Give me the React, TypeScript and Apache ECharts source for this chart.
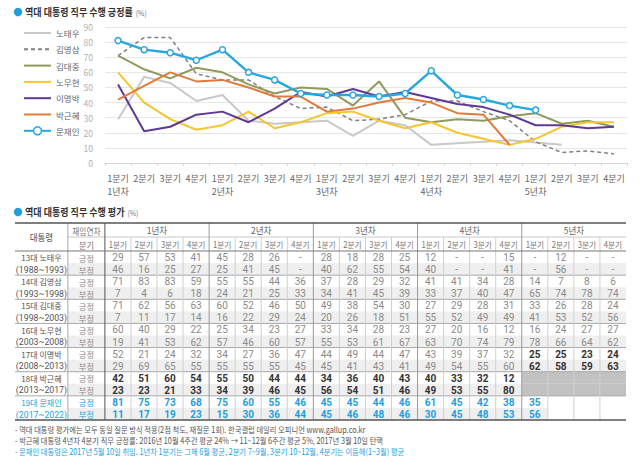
import React, { useEffect, useRef } from "react";
import * as echarts from "echarts";

const FONT = "'Noto Sans CJK KR', 'Noto Sans', sans-serif";
const NUM_FONT = "Roboto, 'Liberation Sans', sans-serif";

const quarterLabels = ["1분기", "2분기", "3분기", "4분기"];
const yearLabels = ["1년차", "2년차", "3년차", "4년차", "5년차"];
const presidentNames = ["노태우", "김영삼", "김대중", "노무현", "이명박", "박근혜", "문재인"];
const termNumbers = ["13대", "14대", "15대", "16대", "17대", "18대", "19대"];
const termPeriods = ["(1988~1993)", "(1993~1998)", "(1998~2003)", "(2003~2008)", "(2008~2013)", "(2013~2017)", "(2017~2022)"];
const ratingLabels = ["긍정", "부정"];

const rohPos = [29, 57, 53, 41, 45, 28, 26, null, 28, 18, 28, 25, 12, null, null, 15, null, 12, null, null];
const rohNeg = [46, 16, 25, 27, 25, 41, 45, null, 40, 62, 55, 54, 40, null, null, 41, null, 56, null, null];
const kysPos = [71, 83, 83, 59, 55, 55, 44, 36, 37, 28, 29, 32, 41, 41, 34, 28, 14, 7, 8, 6];
const kysNeg = [7, 4, 6, 18, 24, 21, 25, 33, 34, 41, 45, 39, 33, 37, 40, 47, 65, 74, 78, 74];
const kdjPos = [71, 62, 56, 63, 60, 52, 46, 50, 49, 38, 54, 30, 27, 29, 28, 31, 33, 26, 28, 24];
const kdjNeg = [7, 11, 17, 14, 16, 22, 29, 24, 20, 26, 18, 51, 55, 52, 49, 49, 41, 53, 52, 56];
const rmhPos = [60, 40, 29, 22, 25, 34, 23, 27, 33, 34, 28, 23, 27, 20, 16, 12, 16, 24, 27, 27];
const rmhNeg = [19, 41, 53, 62, 57, 46, 60, 57, 55, 53, 61, 67, 63, 70, 74, 79, 78, 66, 64, 62];
const lmbPos = [52, 21, 24, 32, 34, 27, 36, 47, 44, 49, 44, 47, 43, 39, 37, 32, 25, 25, 23, 24];
const lmbNeg = [29, 69, 65, 55, 55, 55, 55, 45, 45, 41, 43, 41, 49, 54, 55, 60, 62, 58, 59, 63];
const pghPos = [42, 51, 60, 54, 55, 50, 44, 44, 34, 36, 40, 43, 40, 33, 32, 12];
const pghNeg = [23, 23, 21, 33, 34, 39, 46, 45, 56, 54, 51, 46, 49, 53, 55, 80];
const mjiPos = [81, 75, 73, 68, 75, 60, 55, 46, 45, 45, 44, 46, 61, 45, 42, 38, 35];
const mjiNeg = [11, 17, 19, 23, 15, 30, 36, 44, 45, 46, 48, 46, 30, 45, 48, 53, 56];

const footnotes = [
  "- 역대 대통령 평가에는 모두 동일 질문 방식 적용(2점 척도, 재질문 1회). 한국갤럽 데일리 오피니언 www.gallup.co.kr",
  "- 박근혜 대통령 4년차 4분기 직무 긍정률: 2016년 10월 4주간 평균 24% → 11~12월 6주간 평균 5%, 2017년 3월 10일 탄핵",
  "- 문재인 대통령은 2017년 5월 10일 취임. 1년차 1분기는 그해 6월 평균, 2분기 7~9월, 3분기 10~12월, 4분기는 이듬해(1~3월) 평균",
];

const positives = [rohPos, kysPos, kdjPos, rmhPos, lmbPos, pghPos, mjiPos];
const negatives = [rohNeg, kysNeg, kdjNeg, rmhNeg, lmbNeg, pghNeg, mjiNeg];

const lineColors = ["#c8c8c8", "#808080", "#8d9b5c", "#f6c530", "#5e3995", "#e07a3a", "#27a7df"];
const BLUE = "#1e9fdb";

// table layout (in quarter-column units / row units)
const NAME_W = 2.03;
const LABEL_W = 1.42;
const HEAD_H = 1.16;
const NQ = 20;
const NROWS = 14;

type Cell = {
  x0: number; x1: number; y0: number; y1: number;
  text?: string; fill?: string; color?: string; bold?: boolean; size?: number; sx?: number; font?: string;
};
type Seg = { x0: number; y0: number; x1: number; y1: number; color: string; width: number };

function buildCells(): Cell[] {
  const cells: Cell[] = [];
  const L0 = -(NAME_W + LABEL_W);
  const L1 = -LABEL_W;
  cells.push({ x0: L0, x1: L1, y0: -2 * HEAD_H, y1: 0, text: "대통령", color: "#555", size: 9.5, sx: 0.9 });
  cells.push({ x0: L1, x1: 0, y0: -2 * HEAD_H, y1: -HEAD_H, text: "재임연차", color: "#777", size: 9, sx: 0.85 });
  cells.push({ x0: L1, x1: 0, y0: -HEAD_H, y1: 0, text: "분기", color: "#777", size: 9, sx: 0.9 });
  yearLabels.forEach((y, k) => {
    cells.push({ x0: 4 * k, x1: 4 * k + 4, y0: -2 * HEAD_H, y1: -HEAD_H, text: y, color: "#666", size: 9.5, sx: 0.9 });
  });
  for (let i = 0; i < NQ; i++) {
    cells.push({ x0: i, x1: i + 1, y0: -HEAD_H, y1: 0, text: quarterLabels[i % 4], color: "#777", size: 8.5, sx: 0.9 });
  }
  presidentNames.forEach((name, p) => {
    const isMoon = p === 6;
    const baseColor = isMoon ? BLUE : "#555";
    [positives[p], negatives[p]].forEach((arr, k) => {
      const r = 2 * p + k;
      const shade = k === 1 ? "#efefef" : undefined;
      cells.push({
        x0: -(NAME_W + LABEL_W), x1: -LABEL_W, y0: r, y1: r + 1,
        text: k === 0 ? termNumbers[p] + " " + name : termPeriods[p],
        color: baseColor, size: k === 0 ? 8.2 : 9.2, sx: k === 0 ? 0.98 : 0.95,
        font: k === 0 ? FONT : NUM_FONT,
      });
      cells.push({
        x0: -LABEL_W, x1: 0, y0: r, y1: r + 1, text: ratingLabels[k],
        color: isMoon ? BLUE : "#888", size: 8.2, sx: 1, fill: shade,
      });
      for (let i = 0; i < NQ; i++) {
        const c: Cell = { x0: i, x1: i + 1, y0: r, y1: r + 1, fill: shade, size: 10, color: "#8a8a8a", font: NUM_FONT };
        if (i < arr.length) {
          const v = arr[i];
          c.text = v === null ? "-" : String(v);
          if (p === 5 || (p === 4 && i >= 16)) { c.bold = true; c.color = "#333"; }
          if (isMoon) { c.bold = true; c.color = BLUE; }
        } else if (p === 5) {
          c.fill = "#c2c2c2";
        } else {
          c.fill = undefined;
        }
        cells.push(c);
      }
    });
  });
  return cells;
}

function buildSegs(): Seg[] {
  const segs: Seg[] = [];
  const L0 = -(NAME_W + LABEL_W);
  const L1 = -LABEL_W;
  const T = -2 * HEAD_H;
  segs.push({ x0: L1, y0: -HEAD_H, x1: NQ, y1: -HEAD_H, color: "#c8c8c8", width: 1 });
  for (let p = 1; p < presidentNames.length; p++) {
    segs.push({ x0: L0, y0: 2 * p, x1: NQ, y1: 2 * p, color: "#a8a8a8", width: 1 });
  }
  for (let i = 1; i < NQ; i++) {
    if (i % 4 === 0) segs.push({ x0: i, y0: T, x1: i, y1: NROWS, color: "#9a9a9a", width: 1 });
    else segs.push({ x0: i, y0: -HEAD_H, x1: i, y1: NROWS, color: "#cfcfcf", width: 1 });
  }
  segs.push({ x0: L1, y0: T, x1: L1, y1: NROWS, color: "#a8a8a8", width: 1 });
  segs.push({ x0: 0, y0: T, x1: 0, y1: NROWS, color: "#555", width: 1 });
  segs.push({ x0: L0, y0: 0, x1: NQ, y1: 0, color: "#777", width: 1 });
  segs.push({ x0: L0, y0: T, x1: NQ, y1: T, color: "#555", width: 1.6 });
  segs.push({ x0: L0, y0: NROWS, x1: NQ, y1: NROWS, color: "#555", width: 1.6 });
  return segs;
}

export default function App() {
  const ref = useRef<HTMLDivElement>(null);
  useEffect(() => {
    const chart = echarts.init(ref.current as HTMLDivElement, undefined, { renderer: "svg" });
    const xCats: string[] = [];
    yearLabels.forEach((y) => quarterLabels.forEach((q, qi) => xCats.push(qi === 0 ? q + "\n" + y : q)));
    const cells = buildCells();
    const segs = buildSegs();

    const lineSeries = presidentNames.map((name, p) => {
      const isMoon = p === 6;
      return {
        type: "line",
        name,
        data: positives[p],
        xAxisIndex: 0,
        yAxisIndex: 0,
        connectNulls: true,
        color: lineColors[p],
        symbol: isMoon ? "circle" : "none",
        symbolSize: 6,
        showSymbol: isMoon,
        itemStyle: isMoon ? { color: "#fff", borderColor: lineColors[p], borderWidth: 1.5 } : { color: lineColors[p] },
        lineStyle: { color: lineColors[p], width: isMoon ? 2.4 : p === 1 ? 1.5 : 2, type: p === 1 ? [4, 3] : "solid" },
        z: 2 + p,
      };
    });

    const option: any = {
      animation: false,
      textStyle: { fontFamily: FONT },
      legend: {
        orient: "vertical",
        left: 18,
        top: 23,
        itemWidth: 27,
        itemHeight: 10,
        itemGap: 6.3,
        data: presidentNames.map((n, p) =>
          p === 6 ? { name: n, itemStyle: { color: "#fff", borderColor: lineColors[p], borderWidth: 1.5 } }
                  : { name: n, itemStyle: { color: "rgba(0,0,0,0)", borderColor: "rgba(0,0,0,0)", borderWidth: 0 } }
        ),
        textStyle: { fontSize: 8.5, color: "#666", fontFamily: FONT, lineHeight: 10 },
      },
      grid: [
        { left: 105, right: 13, top: 27, bottom: 309 },
        { left: 15, right: 14, top: 223, bottom: 52 },
      ],
      xAxis: [
        {
          type: "category",
          gridIndex: 0,
          data: xCats,
          boundaryGap: true,
          axisLine: { lineStyle: { color: "#d4d4d4" } },
          axisTick: { show: true, length: 3, lineStyle: { color: "#d4d4d4" } },
          axisLabel: { interval: 0, fontSize: 9, color: "#666", lineHeight: 13, margin: 9, fontFamily: FONT },
        },
        { type: "value", gridIndex: 1, min: -(NAME_W + LABEL_W), max: NQ, show: false },
      ],
      yAxis: [
        {
          type: "value",
          gridIndex: 0,
          min: 0,
          max: 90,
          interval: 10,
          axisLine: { show: false },
          axisTick: { show: false },
          axisLabel: { color: "#b0b0b0", fontSize: 8.5, margin: 12, fontFamily: FONT },
          splitLine: { lineStyle: { color: "#e6e6e6", width: 1 } },
        },
        { type: "value", gridIndex: 1, min: -2 * HEAD_H, max: NROWS, inverse: true, show: false },
      ],
      series: [
        ...lineSeries,
        {
          type: "custom",
          coordinateSystem: "cartesian2d",
          xAxisIndex: 1,
          yAxisIndex: 1,
          silent: true,
          clip: false,
          z: 1,
          data: cells.map((c) => [c.x0, c.y0, c.x1, c.y1]),
          encode: { x: [0, 2], y: [1, 3] },
          renderItem: (params: any, api: any) => {
            const c = cells[params.dataIndex];
            const a = api.coord([c.x0, c.y0]);
            const b = api.coord([c.x1, c.y1]);
            const children: any[] = [];
            if (c.fill) {
              children.push({
                type: "rect",
                shape: { x: a[0], y: a[1], width: b[0] - a[0], height: b[1] - a[1] },
                style: { fill: c.fill },
              });
            }
            if (c.text) {
              children.push({
                type: "text",
                x: (a[0] + b[0]) / 2,
                y: (a[1] + b[1]) / 2 + 0.5,
                scaleX: c.sx ?? 1,
                style: {
                  text: c.text,
                  fill: c.color,
                  fontSize: c.size,
                  fontFamily: c.font ?? FONT,
                  fontWeight: c.bold ? "bold" : "normal",
                  align: "center",
                  verticalAlign: "middle",
                },
              });
            }
            return { type: "group", children };
          },
        },
        {
          type: "custom",
          coordinateSystem: "cartesian2d",
          xAxisIndex: 1,
          yAxisIndex: 1,
          silent: true,
          clip: false,
          z: 3,
          data: segs.map((s) => [s.x0, s.y0, s.x1, s.y1]),
          encode: { x: [0, 2], y: [1, 3] },
          renderItem: (params: any, api: any) => {
            const s = segs[params.dataIndex];
            const a = api.coord([s.x0, s.y0]);
            const b = api.coord([s.x1, s.y1]);
            return {
              type: "line",
              shape: { x1: a[0], y1: a[1], x2: b[0], y2: b[1] },
              style: { stroke: s.color, lineWidth: s.width },
            };
          },
        },
      ],
      graphic: [
        { type: "circle", shape: { cx: 18, cy: 12, r: 4.2 }, style: { fill: BLUE } },
        {
          type: "text", x: 25, y: 12, scaleX: 0.86,
          style: {
            text: "{b|역대 대통령 직무 수행 긍정률} {s|(%)}",
            verticalAlign: "middle",
            rich: {
              b: { fontSize: 10.5, fontWeight: "bold", fill: "#333", fontFamily: FONT },
              s: { fontSize: 8, fill: "#777", fontFamily: FONT },
            },
          },
        },
        { type: "circle", shape: { cx: 18, cy: 212, r: 4.2 }, style: { fill: BLUE } },
        {
          type: "text", x: 25, y: 212, scaleX: 0.86,
          style: {
            text: "{b|역대 대통령 직무 수행 평가} {s|(%)}",
            verticalAlign: "middle",
            rich: {
              b: { fontSize: 10.5, fontWeight: "bold", fill: "#333", fontFamily: FONT },
              s: { fontSize: 8, fill: "#777", fontFamily: FONT },
            },
          },
        },
        ...footnotes.map((t, i) => ({
          type: "text",
          x: 15,
          y: 429 + i * 11,
          scaleX: 0.856,
          style: {
            text: t,
            fontSize: 8.5,
            fontFamily: FONT,
            fill: i === 2 ? BLUE : "#555",
            verticalAlign: "middle",
          },
        })),
      ],
    };
    chart.setOption(option);
    return () => chart.dispose();
  }, []);
  return <div ref={ref} style={{ position: "fixed", left: 0, top: 0, width: 640, height: 472, background: "#fff" }} />;
}
